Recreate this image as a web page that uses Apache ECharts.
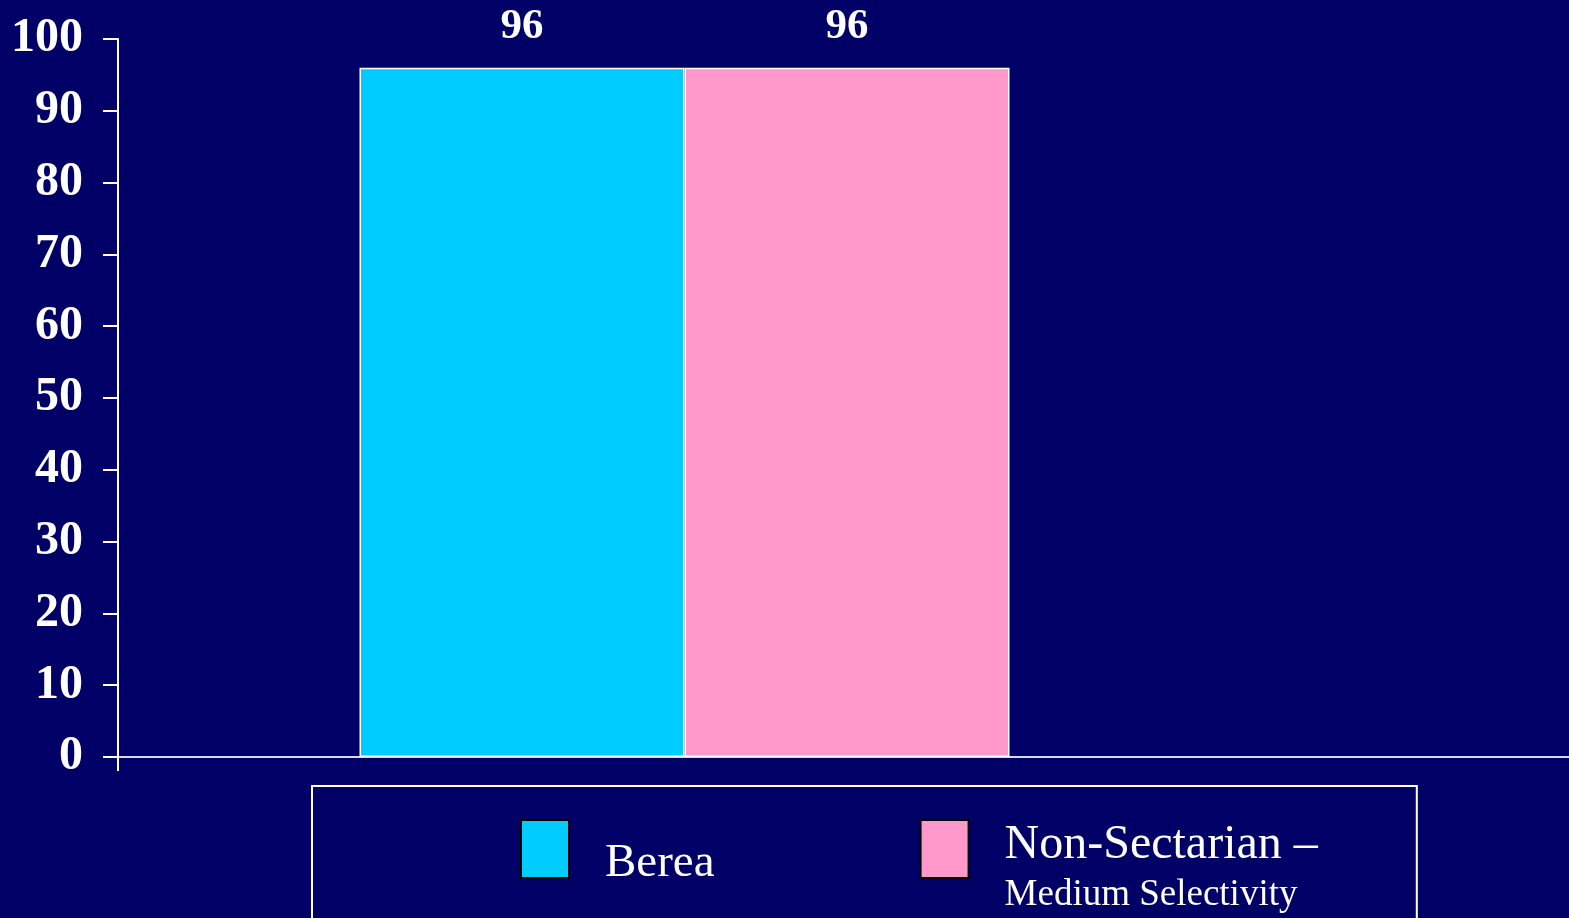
<!DOCTYPE html>
<html>
<head>
<meta charset="utf-8">
<script src="https://cdn.jsdelivr.net/npm/echarts@6/dist/echarts.min.js"></script>
<style>
html,body{margin:0;padding:0;background:#000066;}
#chart{width:1569px;height:918px;}
</style>
</head>
<body>
<div id="chart"></div>
<script>
const categories = [''];
const seriesNames = ['Berea', 'Non-Sectarian – Medium Selectivity'];
const bereaValues = [96];
const nonSectarianValues = [96];
const yMin = 0, yMax = 100, yInterval = 10;

const chart = echarts.init(document.getElementById('chart'));
const serif = '"Liberation Serif", "Times New Roman", serif';

chart.setOption({
  backgroundColor: '#000066',
  animation: false,
  grid: [
    { left: 118, top: 39, width: 1133, bottom: 161 },
    { left: 118, top: 39, right: 0, bottom: 161 }
  ],
  xAxis: [
    { type: 'category', gridIndex: 0, data: categories, show: false },
    { type: 'value', gridIndex: 1, min: 0, max: 1, interval: 1,
      axisLine: { show: true, lineStyle: { color: '#d8d8ec', width: 2 } },
      axisTick: { show: true, length: 14, customValues: [0], lineStyle: { color: '#ffffff', width: 2 } },
      axisLabel: { show: false }, splitLine: { show: false } }
  ],
  yAxis: [
    { type: 'value', gridIndex: 0, min: yMin, max: yMax, interval: yInterval,
      axisLine: { show: true, lineStyle: { color: '#ffffff', width: 2 } },
      axisTick: { show: true, length: 15, lineStyle: { color: '#ffffff', width: 2 } },
      axisLabel: { color: '#ffffff', fontFamily: serif, fontWeight: 'bold', fontSize: 48, margin: 35 },
      splitLine: { show: false } },
    { type: 'value', gridIndex: 1, show: false, min: 0, max: 1 }
  ],
  legend: {
    left: 312, top: 786,
    padding: [33, 99, 30, 208],
    borderColor: '#ffffff', borderWidth: 2,
    itemWidth: 48, itemHeight: 58, itemGap: 205,
    selectedMode: false,
    itemStyle: { borderColor: '#000000', borderWidth: 2 },
    textStyle: { color: '#ffffff', fontFamily: serif, fontSize: 47 },
    formatter: function (name) {
      if (name === seriesNames[1]) return '{a|Non-Sectarian –}\n{b|Medium Selectivity}';
      return '{c|' + name + '}';
    },
    data: [
      { name: seriesNames[0], icon: 'rect',
        textStyle: { padding: [30, 0, 0, 31],
          rich: {
            c: { color: '#ffffff', fontFamily: serif, fontSize: 47, lineHeight: 50 }
          } } },
      { name: seriesNames[1], icon: 'rect',
        textStyle: { padding: [42, 0, 0, 31],
          rich: {
            a: { color: '#ffffff', fontFamily: serif, fontSize: 48, lineHeight: 50 },
            b: { color: '#ffffff', fontFamily: serif, fontSize: 37, lineHeight: 50 }
          } } }
    ]
  },
  series: [
    { name: seriesNames[0], type: 'bar', xAxisIndex: 0, yAxisIndex: 0,
      data: bereaValues, barWidth: 325, barGap: '0%',
      itemStyle: { color: '#00CCFF', borderColor: '#ffffff', borderWidth: 1.5 },
      label: { show: true, position: 'top', distance: 19, color: '#ffffff',
        fontFamily: serif, fontWeight: 'bold', fontSize: 43 } },
    { name: seriesNames[1], type: 'bar', xAxisIndex: 0, yAxisIndex: 0,
      data: nonSectarianValues, barWidth: 325, barGap: '0%',
      itemStyle: { color: '#FF99CC', borderColor: '#ffffff', borderWidth: 1.5 },
      label: { show: true, position: 'top', distance: 19, color: '#ffffff',
        fontFamily: serif, fontWeight: 'bold', fontSize: 43 } }
  ]
});
</script>
</body>
</html>
